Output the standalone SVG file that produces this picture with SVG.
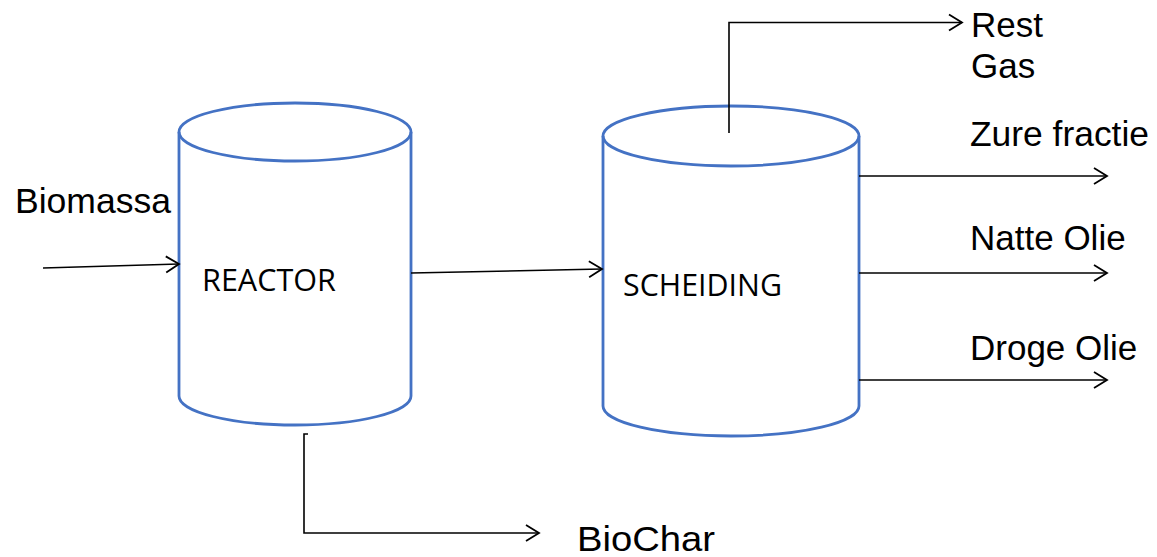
<svg xmlns="http://www.w3.org/2000/svg" width="1157" height="557" viewBox="0 0 1157 557">
<defs>
<style>
.cyl{fill:none;stroke:#4472C4;stroke-width:2.8}
.con{fill:none;stroke:#000;stroke-width:1.6}
.lbl{font-family:"Liberation Sans",Arial,sans-serif;font-size:35px;fill:#000}
.nl{font-family:"Open Sans","Noto Sans",sans-serif;font-size:31px;fill:#000}
</style>
<marker id="arr" markerUnits="userSpaceOnUse" markerWidth="16" markerHeight="20" refX="14" refY="9" orient="auto" viewBox="0 0 16 18">
<path d="M1,1 L14,9 L1,17" fill="none" stroke="#000" stroke-width="1.8"/>
</marker>
</defs>
<rect width="1157" height="557" fill="#fff"/>
<g id="reactor">
<ellipse class="cyl" cx="295" cy="132" rx="116" ry="29"/>
<path class="cyl" d="M179,132 L179,396 A116,29 0 0 0 411,396 L411,132"/>
<text class="nl" x="202" y="291" textLength="134" lengthAdjust="spacingAndGlyphs">REACTOR</text>
</g>
<g id="scheiding">
<ellipse class="cyl" cx="731" cy="136" rx="128" ry="30"/>
<path class="cyl" d="M603,136 L603,406 A128,30 0 0 0 859,406 L859,136"/>
<text class="nl" x="623" y="296" textLength="159" lengthAdjust="spacingAndGlyphs">SCHEIDING</text>
</g>
<g id="labels">
<text class="lbl" x="15" y="213" textLength="156" lengthAdjust="spacingAndGlyphs">Biomassa</text>
<text class="lbl" x="971" y="37">Rest</text>
<text class="lbl" x="971" y="78">Gas</text>
<text class="lbl" x="970" y="146" textLength="179" lengthAdjust="spacingAndGlyphs">Zure fractie</text>
<text class="lbl" x="970" y="250">Natte Olie</text>
<text class="lbl" x="970" y="360">Droge Olie</text>
<text class="lbl" x="577" y="551" textLength="138" lengthAdjust="spacingAndGlyphs">BioChar</text>
</g>
<g id="connectors">
<path class="con" d="M43,268 L179,264" marker-end="url(#arr)"/>
<path class="con" d="M411,273 L602,269" marker-end="url(#arr)"/>
<path class="con" d="M729,133 L729,22.5 L962,22.5" marker-end="url(#arr)"/>
<path class="con" d="M859,176 L1107,176" marker-end="url(#arr)"/>
<path class="con" d="M859,273 L1107,273" marker-end="url(#arr)"/>
<path class="con" d="M859,380 L1107,380" marker-end="url(#arr)"/>
<path class="con" d="M308,434 L304,434 L304,533 L539,533" marker-end="url(#arr)"/>
</g>
</svg>
